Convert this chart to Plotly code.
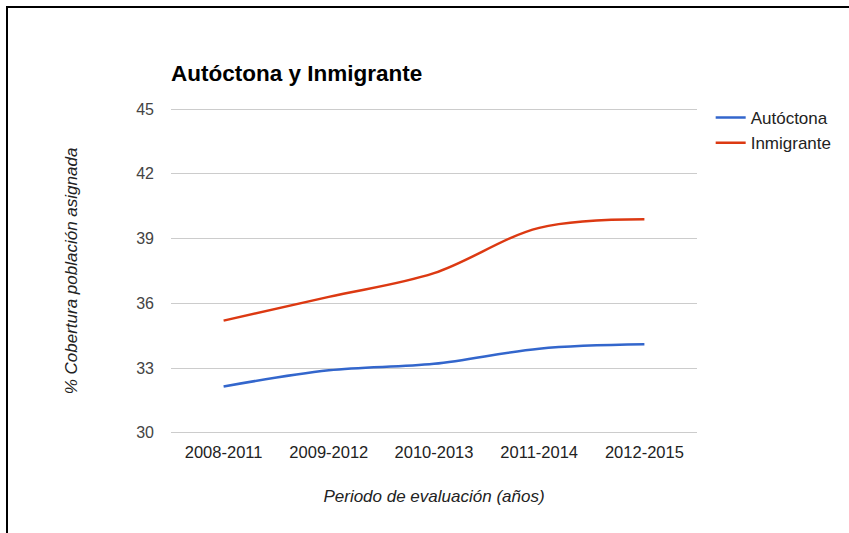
import plotly.graph_objects as go

periodos = ["2008-2011", "2009-2012", "2010-2013", "2011-2014", "2012-2015"]
autoctona = [32.15, 32.9, 33.2, 33.9, 34.1]
inmigrante = [35.2, 36.3, 37.4, 39.5, 39.9]
y_ticks = [30, 33, 36, 39, 42, 45]

FONT = "Liberation Sans, Arial, sans-serif"

# plot area: 30 sits at y=433 px, 45 at y=109 px; range is padded 0.1 on each side
Y0, Y1 = 29.9, 45.1
TOP, BOTTOM = 107, 98
PLOT_H = 533 - TOP - BOTTOM
PLOT_L, PLOT_W = 171, 526

fig = go.Figure()
fig.add_trace(go.Scatter(
    x=periodos, y=autoctona, name="Autóctona", mode="lines",
    line=dict(color="#3366cc", width=2.5, shape="spline", smoothing=1.0),
))
fig.add_trace(go.Scatter(
    x=periodos, y=inmigrante, name="Inmigrante", mode="lines",
    line=dict(color="#dc3912", width=2.5, shape="spline", smoothing=1.0),
))

# outer frame (left and top edges visible inside the page)
fig.add_shape(type="rect", xref="paper", yref="paper",
              x0=(7 - PLOT_L) / PLOT_W, x1=(870 - PLOT_L) / PLOT_W,
              y0=(533 - BOTTOM - 560) / PLOT_H, y1=1 + (TOP - 7) / PLOT_H,
              line=dict(color="#000000", width=2), layer="below")

fig.update_layout(
    width=849, height=533,
    margin=dict(l=PLOT_L, r=849 - PLOT_L - PLOT_W, t=TOP, b=BOTTOM),
    paper_bgcolor="white", plot_bgcolor="white",
    font=dict(family=FONT, size=16, color="#444444"),
    title=dict(text="<b>Autóctona y Inmigrante</b>", x=0, xref="paper",
               xanchor="left", y=1 - 73 / 533, yanchor="middle",
               font=dict(family=FONT, size=22.5, color="#000000")),
    showlegend=True,
    legend=dict(x=1.026, xanchor="left", y=1 + 7 / PLOT_H, yanchor="top",
                font=dict(family=FONT, size=17, color="#222222"),
                bgcolor="rgba(0,0,0,0)"),
    xaxis=dict(range=[-0.5, 4.5], showgrid=False, zeroline=False,
               showline=False, ticks="", ticklabelstandoff=5,
               tickfont=dict(size=16.5, color="#222222"),
               title=dict(text="<i>Periodo de evaluación (años)</i>",
                          font=dict(size=17, color="#222222"), standoff=30)),
    yaxis=dict(range=[Y0, Y1], tickvals=y_ticks, showgrid=True,
               gridcolor="#cccccc", gridwidth=1, zeroline=False,
               showline=False, ticks="", ticklabelstandoff=16,
               tickfont=dict(size=16, color="#444444"),
               title=dict(text="<i>% Cobertura población asignada</i>",
                          font=dict(size=17, color="#222222"), standoff=54)),
)

fig.write_html("out.html")
